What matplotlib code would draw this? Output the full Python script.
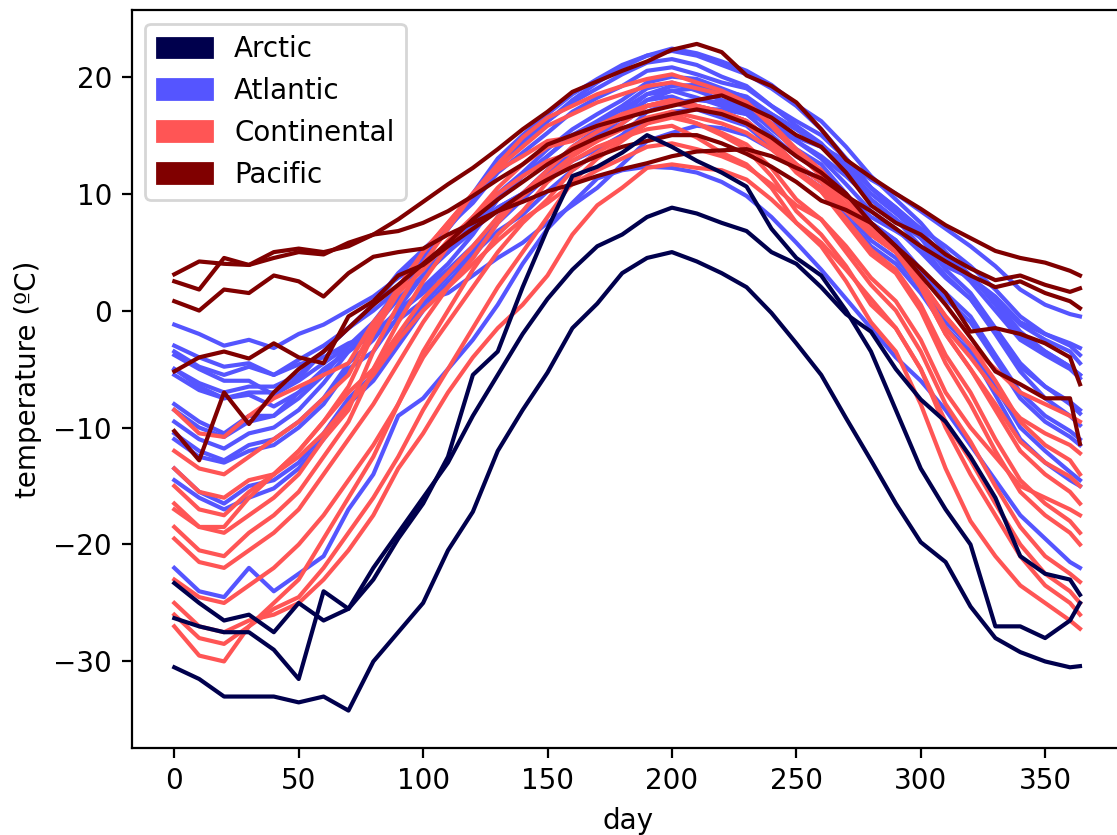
import numpy as np
import matplotlib
matplotlib.use('Agg')
import matplotlib.pyplot as plt
import matplotlib.patches as mpatches

# sample days (every 10 days plus the last day of the year)
days = list(range(0, 361, 10)) + [364]

regions = ['Arctic', 'Atlantic', 'Continental', 'Pacific']

# daily mean temperature (ºC) per station, grouped by region
atlantic = [
    [-3.0, -4.0, -4.8, -4.5, -5.5, -4.6, -4.0, -2.8, -2.0, -0.8, 0.8, 1.5, 3.0, 4.5, 5.8, 7.5, 9.0, 10.5, 12.5, 14.5,
     15.2, 15.8, 15.6, 15.0, 13.8, 12.4, 11.2, 9.8, 8.0, 6.8, 5.5, 3.8, 2.8, 1.2, -1.0, -2.0, -2.8, -3.2],  # St. Johns
    [-3.5, -4.8, -5.5, -4.8, -5.5, -4.2, -3.0, -1.5, 0.0, 1.8, 3.5, 5.0, 6.8, 8.8, 10.0, 12.0, 13.8, 15.0, 16.5, 18.0,
     18.8, 19.0, 18.5, 18.0, 16.8, 15.5, 14.2, 12.5, 10.5, 8.8, 7.0, 5.5, 3.8, 1.8, -0.5, -2.0, -3.0, -3.8],  # Halifax
    [-3.8, -5.0, -6.0, -6.0, -7.2, -6.0, -4.5, -3.0, -1.8, -0.2, 1.5, 3.0, 4.8, 6.8, 8.2, 10.2, 12.0, 13.5, 15.0, 17.0,
     17.8, 18.0, 17.8, 17.0, 15.8, 14.5, 13.2, 11.5, 9.5, 7.8, 6.2, 4.2, 2.8, 1.0, -1.2, -2.5, -3.5, -4.5],  # Sydney
    [-1.2, -2.0, -3.0, -2.5, -3.2, -2.0, -1.2, 0.0, 1.2, 2.8, 4.2, 5.5, 7.0, 8.8, 10.0, 11.5, 12.8, 13.8, 15.0, 16.2,
     17.0, 17.2, 17.2, 16.8, 16.0, 14.8, 14.0, 12.8, 11.2, 10.0, 8.5, 7.0, 5.5, 3.8, 1.8, 0.5, -0.3, -0.5],  # Yarmouth
    [-5.0, -6.5, -7.5, -7.2, -8.2, -7.0, -5.0, -3.5, -2.0, 0.0, 1.8, 3.5, 5.5, 7.8, 9.5, 11.8, 13.5, 15.2, 16.8, 18.5,
     19.2, 19.3, 18.8, 18.3, 16.8, 15.5, 14.0, 12.2, 10.0, 8.3, 6.5, 4.5, 3.0, 0.8, -1.8, -3.5, -4.8, -5.5],  # Charlottetown
    [-8.0, -9.5, -10.5, -9.0, -9.0, -7.0, -5.5, -3.0, -1.5, 1.0, 3.0, 5.0, 7.5, 10.0, 11.8, 13.8, 15.5, 16.8, 18.0, 19.5,
     20.0, 19.8, 19.0, 18.2, 16.5, 14.5, 13.0, 10.8, 8.5, 7.0, 5.0, 2.8, 1.0, -1.8, -4.8, -6.5, -7.8, -8.5],  # Fredericton
    [-22.0, -24.0, -24.5, -22.0, -24.0, -22.5, -21.0, -17.0, -14.0, -9.0, -7.5, -5.0, -2.5, 0.5, 4.0, 7.0, 9.2, 11.3, 12.0, 12.3,
     12.2, 11.8, 11.0, 9.8, 8.0, 5.8, 3.5, 1.0, -1.5, -4.0, -6.0, -8.5, -11.5, -14.5, -17.5, -19.5, -21.5, -22.0],  # Schefferville
    [-13.5, -15.5, -16.5, -15.0, -14.5, -13.0, -10.5, -7.5, -5.5, -2.5, 0.5, 3.0, 5.0, 8.0, 10.0, 12.0, 14.0, 15.5, 16.5, 18.0,
     18.3, 17.5, 17.0, 16.2, 14.5, 12.5, 11.0, 8.5, 6.0, 4.5, 2.0, -1.0, -3.0, -6.5, -10.0, -12.0, -13.8, -14.5],  # Arvida
    [-14.5, -16.0, -17.0, -16.0, -15.2, -13.5, -11.0, -8.0, -6.0, -3.0, 0.0, 2.5, 4.5, 7.5, 9.5, 11.5, 13.5, 15.0, 16.0, 17.5,
     17.8, 17.2, 16.5, 15.8, 14.0, 12.0, 10.5, 8.0, 5.5, 4.0, 1.5, -1.5, -3.5, -7.2, -11.0, -13.0, -14.5, -15.0],  # Bagotville
    [-11.0, -12.5, -13.0, -12.0, -11.5, -10.0, -8.0, -5.0, -3.5, -0.5, 2.0, 4.0, 6.5, 9.5, 11.5, 13.2, 15.0, 16.2, 17.5, 19.0,
     19.5, 18.8, 18.0, 17.3, 15.5, 13.8, 12.5, 10.0, 7.5, 6.0, 3.5, 1.0, -1.0, -4.2, -7.5, -9.5, -10.8, -11.5],  # Quebec
    [-10.5, -12.0, -12.8, -11.5, -11.0, -9.5, -7.5, -4.5, -2.5, 0.2, 3.0, 5.0, 7.2, 9.8, 11.5, 13.2, 15.0, 16.0, 17.2, 18.5,
     18.8, 18.2, 17.5, 16.8, 15.0, 13.2, 12.0, 9.8, 7.5, 6.0, 3.5, 1.5, -0.5, -3.8, -7.0, -9.0, -10.3, -11.0],  # Sherbrooke
    [-8.5, -10.0, -10.8, -9.5, -9.0, -7.5, -5.5, -3.0, -1.0, 1.8, 4.5, 7.0, 10.0, 13.0, 15.0, 16.8, 18.5, 19.8, 21.0, 21.8,
     22.2, 21.8, 21.0, 20.2, 19.0, 17.5, 15.5, 13.0, 10.5, 8.5, 6.2, 3.5, 1.5, -1.5, -4.5, -6.5, -8.0, -8.8],  # Montreal
    [-9.5, -11.0, -11.8, -10.5, -10.0, -8.5, -6.2, -3.5, -1.5, 1.5, 4.2, 7.0, 9.8, 12.5, 14.5, 16.2, 17.8, 19.0, 20.2, 21.2,
     21.5, 21.0, 20.0, 19.2, 17.5, 15.8, 14.3, 12.0, 9.5, 7.8, 5.5, 3.0, 1.0, -2.0, -5.2, -7.5, -9.0, -9.8],  # Ottawa
    [-5.0, -6.2, -7.0, -6.5, -6.5, -5.5, -3.5, -1.5, 0.5, 3.0, 5.0, 7.0, 9.5, 12.2, 14.2, 16.2, 18.0, 19.5, 20.8, 21.8,
     22.4, 22.0, 21.3, 20.5, 19.3, 17.6, 16.2, 14.0, 11.5, 9.5, 7.5, 5.0, 3.0, 0.5, -2.2, -3.5, -4.8, -5.5],  # Toronto
    [-5.5, -6.8, -7.5, -7.0, -7.0, -5.8, -3.5, -1.5, 0.5, 3.2, 5.2, 7.2, 9.2, 11.8, 13.5, 15.2, 17.0, 18.2, 19.2, 20.5,
     20.8, 20.2, 19.5, 19.0, 17.5, 16.2, 15.0, 13.0, 10.5, 8.8, 6.8, 4.5, 2.5, 0.0, -2.5, -3.8, -5.0, -5.8],  # London
]

continental = [
    [-13.5, -15.5, -16.0, -14.5, -14.0, -12.0, -9.5, -7.0, -5.0, -2.0, 1.0, 3.2, 5.5, 8.0, 9.8, 11.5, 13.2, 14.5, 16.0, 17.5,
     18.0, 17.5, 17.0, 16.2, 14.5, 12.5, 11.0, 8.8, 6.5, 5.0, 2.5, -0.5, -3.0, -6.0, -9.5, -11.5, -12.8, -14.0],  # Thunder Bay
    [-16.5, -18.5, -19.0, -17.5, -16.0, -14.0, -11.0, -8.5, -3.5, 0.5, 4.0, 7.0, 10.0, 12.5, 14.8, 16.5, 17.5, 18.5, 19.2, 19.8,
     20.2, 19.5, 18.8, 17.8, 16.0, 13.8, 12.0, 9.5, 7.0, 5.2, 2.0, -2.0, -5.0, -8.5, -12.0, -14.0, -15.5, -16.5],  # Winnipeg
    [-19.5, -21.5, -22.0, -20.5, -19.0, -17.0, -14.0, -11.0, -8.0, -4.5, -1.0, 2.0, 4.5, 7.5, 10.0, 12.0, 14.0, 15.3, 16.5, 17.5,
     18.0, 17.5, 16.8, 16.0, 14.2, 11.8, 10.2, 7.5, 4.8, 3.2, 0.0, -4.5, -8.0, -12.0, -15.5, -17.5, -19.0, -20.0],  # The Pas
    [-25.0, -27.0, -27.5, -26.5, -26.0, -25.0, -23.0, -20.5, -17.5, -13.5, -10.5, -7.0, -4.0, -1.5, 0.5, 3.0, 6.5, 9.0, 10.5, 12.2,
     12.5, 12.2, 12.0, 11.2, 9.5, 7.5, 5.8, 3.5, 1.0, -1.5, -5.0, -9.5, -12.8, -16.5, -20.0, -22.5, -24.0, -25.0],  # Churchill
    [-15.0, -17.0, -17.5, -15.5, -14.0, -12.0, -9.5, -6.5, -2.0, 1.5, 5.0, 7.5, 10.0, 12.2, 14.0, 15.8, 16.8, 17.8, 18.5, 19.2,
     19.5, 19.0, 18.5, 17.8, 15.8, 13.5, 11.5, 9.0, 6.8, 5.0, 2.0, -2.0, -5.0, -8.0, -11.2, -13.0, -14.2, -15.0],  # Regina
    [-18.5, -20.5, -21.0, -19.0, -17.5, -15.5, -12.5, -9.5, -5.0, -1.0, 2.5, 5.5, 8.0, 10.5, 12.5, 14.0, 14.5, 15.8, 16.8, 17.5,
     18.0, 17.5, 17.0, 16.2, 14.2, 12.0, 10.2, 7.8, 5.2, 3.5, 0.5, -3.8, -7.0, -11.0, -14.5, -16.5, -18.0, -19.0],  # Pr. Albert
    [-23.0, -24.5, -25.0, -23.5, -22.0, -20.0, -17.5, -14.5, -11.5, -8.0, -4.0, -1.0, 2.0, 5.0, 7.5, 9.5, 12.0, 13.5, 14.8, 16.0,
     16.5, 16.0, 15.2, 14.2, 12.2, 9.5, 7.8, 5.0, 2.2, 0.0, -3.5, -8.0, -11.2, -15.0, -18.5, -21.0, -22.5, -23.2],  # Uranium City
    [-12.0, -13.5, -14.0, -12.5, -11.0, -9.5, -7.5, -5.5, -1.5, 2.0, 5.0, 7.5, 10.0, 12.0, 13.2, 14.5, 14.8, 15.8, 16.5, 17.5,
     17.8, 17.3, 17.0, 16.2, 14.5, 12.5, 11.0, 8.8, 6.5, 5.0, 2.2, -1.5, -4.0, -6.8, -9.2, -10.5, -11.5, -12.2],  # Edmonton
    [-8.5, -10.5, -10.8, -9.0, -7.5, -6.5, -5.5, -4.5, -1.0, 1.5, 3.5, 6.0, 8.0, 10.0, 11.5, 12.8, 13.5, 14.5, 15.5, 16.5,
     17.0, 16.5, 16.0, 15.2, 13.8, 12.0, 10.5, 8.5, 6.5, 5.0, 2.5, -0.5, -3.0, -5.0, -7.0, -8.0, -9.0, -9.5],  # Calgary
    [-17.0, -18.5, -18.5, -16.0, -14.0, -12.5, -10.5, -8.0, -5.5, -2.5, 0.0, 2.0, 4.0, 6.0, 7.8, 9.2, 10.8, 12.0, 13.0, 14.0,
     14.3, 13.8, 13.2, 12.3, 10.8, 9.0, 7.8, 5.5, 2.8, 0.8, -2.5, -7.0, -10.0, -12.5, -15.0, -16.0, -17.0, -17.5],  # Whitehorse
    [-27.0, -29.5, -30.0, -27.0, -25.0, -23.0, -19.5, -16.0, -12.5, -8.0, -3.5, 0.0, 3.5, 6.5, 8.5, 11.0, 12.8, 14.0, 14.8, 15.5,
     15.8, 14.8, 13.5, 12.5, 10.5, 7.5, 5.5, 2.5, -1.0, -3.5, -8.0, -13.5, -18.0, -21.0, -23.5, -25.0, -26.5, -27.2],  # Dawson
    [-26.0, -28.0, -28.5, -27.0, -25.5, -24.5, -22.0, -19.0, -16.0, -12.5, -8.5, -5.0, -1.5, 2.0, 5.0, 8.0, 11.0, 13.0, 14.5, 16.0,
     16.8, 16.0, 15.0, 13.8, 11.5, 8.5, 6.5, 3.8, 0.5, -1.5, -5.0, -10.0, -14.0, -17.5, -21.0, -23.5, -25.0, -26.0],  # Yellowknife
]

pacific = [
    [3.1, 4.2, 4.0, 3.9, 5.0, 5.3, 5.0, 5.5, 6.5, 7.8, 9.3, 10.8, 12.2, 13.8, 15.5, 17.0, 18.7, 19.6, 20.5, 21.3,
     22.3, 22.8, 22.1, 20.1, 19.2, 17.8, 15.5, 12.9, 11.4, 10.0, 8.7, 7.3, 6.2, 5.1, 4.5, 4.1, 3.4, 3.0],
    [2.5, 1.8, 4.5, 3.9, 4.5, 5.0, 4.8, 5.8, 6.5, 6.8, 7.5, 8.5, 9.8, 11.2, 12.5, 14.2, 15.0, 15.8, 16.4, 17.0,
     17.5, 18.0, 18.4, 17.5, 16.5, 15.0, 14.0, 11.8, 9.0, 7.5, 6.5, 4.8, 3.6, 2.6, 3.0, 2.2, 1.6, 1.9],
    [0.8, 0.0, 1.8, 1.5, 3.0, 2.5, 1.2, 3.2, 4.6, 5.0, 5.3, 6.5, 7.5, 8.5, 9.3, 10.2, 10.8, 11.5, 12.1, 12.6,
     13.2, 13.6, 13.7, 13.8, 13.2, 12.2, 11.3, 9.8, 8.5, 7.0, 5.5, 4.2, 3.0, 2.0, 2.5, 1.5, 0.8, 0.2],
    [-5.2, -4.0, -3.5, -4.1, -2.8, -4.0, -4.5, -0.5, 0.8, 3.0, 3.9, 5.5, 7.0, 8.5, 10.0, 11.2, 12.3, 13.2, 14.0, 14.5,
     15.0, 15.0, 14.3, 13.4, 12.3, 11.0, 9.4, 8.6, 7.5, 5.5, 3.6, 1.5, -1.8, -1.5, -2.0, -2.8, -4.0, -6.3],
    [-10.3, -12.8, -7.0, -9.7, -7.0, -5.0, -3.5, -1.5, 0.5, 2.2, 4.0, 5.8, 7.8, 9.5, 11.0, 12.5, 13.8, 14.8, 15.6, 16.3,
     16.8, 17.2, 16.8, 16.0, 14.8, 13.2, 11.8, 10.0, 7.5, 5.5, 3.0, 0.5, -2.3, -5.2, -6.3, -7.5, -7.5, -11.4],
]

arctic = [
    [-23.3, -25.0, -26.5, -26.0, -27.5, -25.0, -26.5, -25.5, -22.0, -19.0, -16.0, -13.0, -9.0, -5.5, -2.0, 1.0, 3.5, 5.5, 6.5, 8.0,
     8.8, 8.3, 7.5, 6.8, 5.0, 4.0, 2.0, -0.3, -1.8, -5.0, -7.6, -9.5, -12.5, -16.0, -21.0, -22.5, -23.0, -24.3],  # Iqaluit
    [-26.3, -27.0, -27.5, -27.5, -29.0, -31.5, -24.0, -25.5, -23.0, -19.5, -16.5, -12.5, -5.5, -3.5, 2.0, 7.0, 11.5, 12.3, 13.5, 15.0,
     14.0, 12.8, 11.8, 10.6, 7.0, 4.5, 3.0, 0.0, -3.5, -8.5, -13.5, -17.0, -20.0, -27.0, -27.0, -28.0, -26.5, -25.0],  # Inuvik
    [-30.5, -31.5, -33.0, -33.0, -33.0, -33.5, -33.0, -34.2, -30.0, -27.5, -25.0, -20.5, -17.2, -12.0, -8.5, -5.3, -1.5, 0.6, 3.2, 4.5,
     5.0, 4.2, 3.2, 2.0, -0.2, -2.8, -5.5, -9.2, -12.8, -16.5, -19.8, -21.5, -25.3, -28.0, -29.2, -30.0, -30.5, -30.4],  # Resolute
]

# one colour per region, taken evenly from the seismic map
cmap = plt.get_cmap('seismic')
colors = dict(zip(regions, cmap(np.linspace(0, 1, len(regions)))))

fig = plt.figure(figsize=(1117 / 200, 835 / 200), dpi=200)
ax = fig.add_axes([131.5 / 1117, 87 / 835, (1125 - 131.5) / 1117, 738 / 835])

for name, group in (('Atlantic', atlantic), ('Continental', continental),
                    ('Pacific', pacific), ('Arctic', arctic)):
    for temps in group:
        ax.plot(days, temps, color=colors[name], linewidth=1.5)

ax.set_xlim(-17.2, 382.1)
ax.set_ylim(-37.4, 25.7)
ax.set_xlabel('day')
ax.set_ylabel('temperature (ºC)')

handles = [mpatches.Patch(color=colors[r], label=r) for r in regions]
ax.legend(handles=handles, loc='upper left')

fig.savefig('out.png', dpi=200)
